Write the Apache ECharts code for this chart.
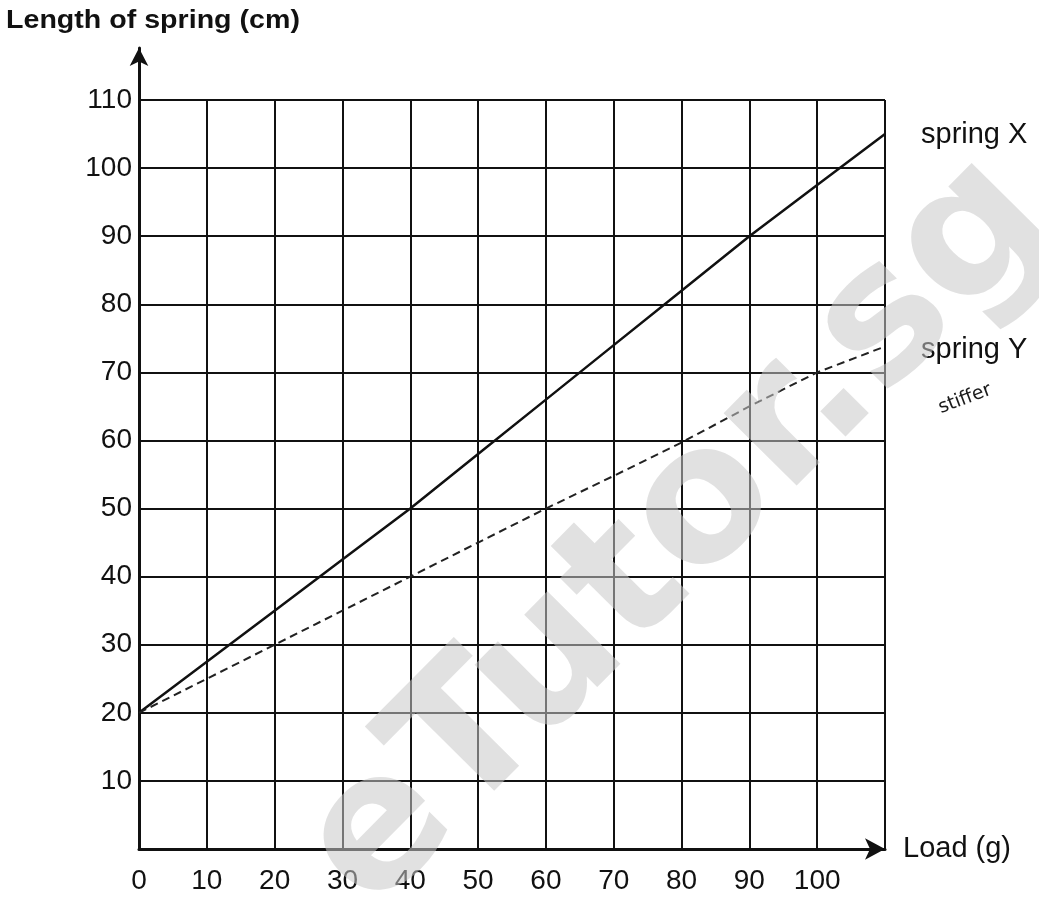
<!DOCTYPE html>
<html>
<head>
<meta charset="utf-8">
<script src="https://cdn.jsdelivr.net/npm/echarts@6/dist/echarts.min.js"></script>
<style>
html,body{margin:0;padding:0;background:#fff;}
#chart{width:1039px;height:902px;}
</style>
</head>
<body>
<div id="chart"></div>
<script>
// Data
const loads   = [0, 10, 20, 30, 40, 50, 60, 70, 80, 90, 100, 110];
const springX = [20, 27.5, 35, 42.5, 50, 58, 66, 74, 82, 90, 97.5, 105];
const springY = [20, 25, 30, 35, 40, 45, 50, 54.8, 59.7, 65, 70, 73.8];
const xTicks  = [0, 10, 20, 30, 40, 50, 60, 70, 80, 90, 100];
const yTicks  = [10, 20, 30, 40, 50, 60, 70, 80, 90, 100, 110];

const FONT = '"Liberation Sans", Arial, sans-serif';
const chart = echarts.init(document.getElementById('chart'), null, {renderer: 'canvas'});

const gridL = 139, gridT = 100, gridW = 746, gridH = 749;

chart.setOption({
  animation: false,
  backgroundColor: '#fff',
  grid: [
    {left: gridL, top: gridT, width: gridW, height: gridH, containLabel: false},
    {left: gridL, top: 48, width: gridW, height: gridH + (gridT - 48), containLabel: false}
  ],
  xAxis: [{
    type: 'value', gridIndex: 0, min: 0, max: 110, interval: 10,
    axisLine: {show: true, lineStyle: {color: '#111', width: 3}, symbol: ['none', 'arrow'], symbolSize: [16, 20]},
    axisTick: {show: false},
    splitLine: {show: true, lineStyle: {color: '#111', width: 2}},
    axisLabel: {
      color: '#111', fontSize: 28, fontFamily: FONT, margin: 18,
      formatter: v => (xTicks.indexOf(v) >= 0 ? String(v) : '')
    },
    name: 'Load (g)', nameLocation: 'end', nameGap: 18,
    nameTextStyle: {color: '#111', fontSize: 29, fontFamily: FONT, align: 'left', verticalAlign: 'middle'}
  }, {
    type: 'value', gridIndex: 1, show: false, min: 0, max: 1
  }],
  yAxis: [{
    type: 'value', gridIndex: 0, min: 0, max: 110, interval: 10,
    axisLine: {show: false},
    axisTick: {show: false},
    splitLine: {show: true, lineStyle: {color: '#111', width: 2}},
    axisLabel: {
      color: '#111', fontSize: 28, fontFamily: FONT, margin: 7,
      formatter: v => (yTicks.indexOf(v) >= 0 ? String(v) : '')
    }
  }, {
    type: 'value', gridIndex: 1, min: 0, max: 1,
    axisLine: {show: true, onZero: false, lineStyle: {color: '#111', width: 3}, symbol: ['none', 'arrow'], symbolSize: [14, 18]},
    axisTick: {show: false}, axisLabel: {show: false}, splitLine: {show: false}
  }],
  series: [{
    name: 'spring X', type: 'line', xAxisIndex: 0, yAxisIndex: 0,
    data: loads.map((x, i) => [x, springX[i]]),
    showSymbol: false, lineStyle: {color: '#111', width: 2.5},
    endLabel: {show: true, formatter: 'spring X', color: '#111', fontSize: 29, fontFamily: FONT, distance: 36, offset: [0, 1]},
    z: 5
  }, {
    name: 'spring Y', type: 'line', xAxisIndex: 0, yAxisIndex: 0,
    data: loads.map((x, i) => [x, springY[i]]),
    showSymbol: false, lineStyle: {color: '#222', width: 2, type: [8, 5]},
    endLabel: {show: true, formatter: 'spring Y', color: '#111', fontSize: 29, fontFamily: FONT, distance: 36, offset: [0, 4]},
    z: 5
  }],
  graphic: [{
    type: 'text', x: 6, y: 8, scaleX: 1.1,
    style: {text: 'Length of spring (cm)', fill: '#111', font: 'bold 26px ' + FONT}
  }, {
    type: 'text', x: 965, y: 399, rotation: 0.36,
    style: {text: 'stiffer', fill: '#1a1a1a', font: '19px "DejaVu Sans", sans-serif', align: 'center', verticalAlign: 'middle'}
  }, {
    type: 'text', x: 337, y: 880, rotation: 0.79, z: 100, silent: true,
    style: {text: 'eTutor.sg', fill: 'rgba(200,200,200,0.55)', font: 'bold 188px "DejaVu Sans", sans-serif', align: 'left', verticalAlign: 'middle'}
  }]
});
</script>
</body>
</html>
